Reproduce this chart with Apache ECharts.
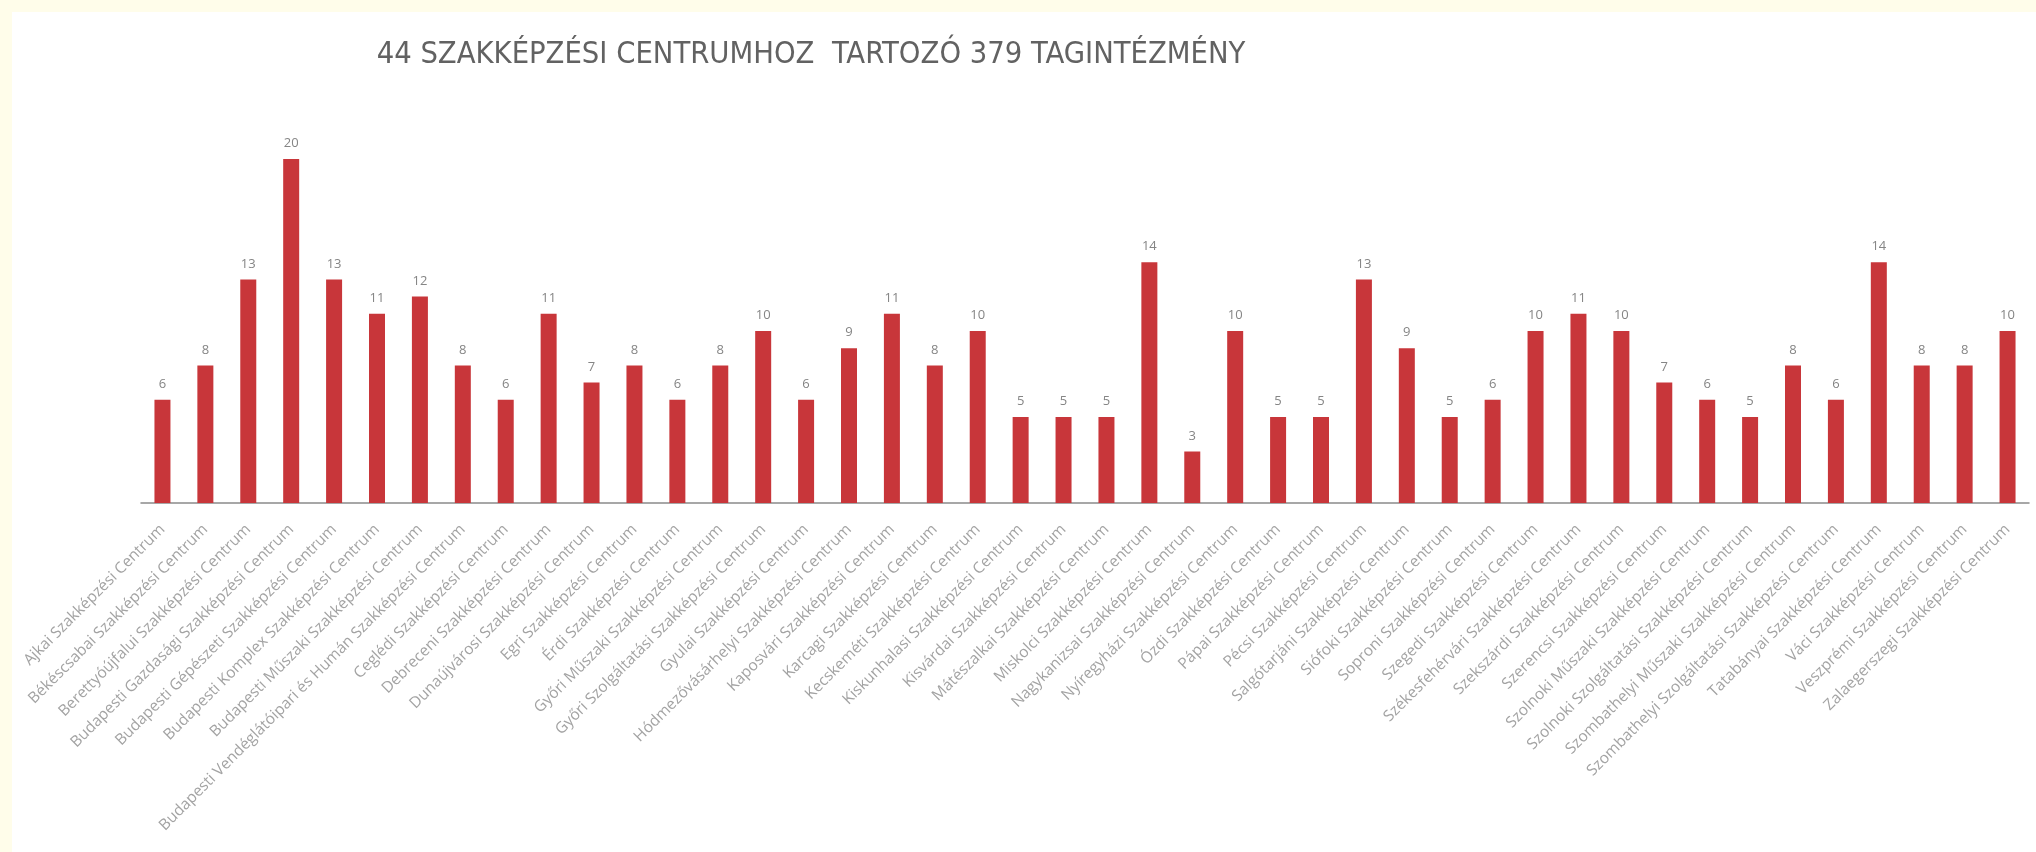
<!DOCTYPE html>
<html>
<head>
<meta charset="utf-8">
<script src="https://cdn.jsdelivr.net/npm/echarts@6/dist/echarts.min.js"></script>
<style>
html,body{margin:0;padding:0;background:#fffdea;width:2036px;height:852px;overflow:hidden;}
#c{position:absolute;left:12px;top:12px;width:2024px;height:840px;background:#ffffff;}
</style>
</head>
<body>
<div id="c"></div>
<script>
const titleText = "44 SZAKKÉPZÉSI CENTRUMHOZ  TARTOZÓ 379 TAGINTÉZMÉNY";
const categories = [
  "Ajkai Szakképzési Centrum",
  "Békéscsabai Szakképzési Centrum",
  "Berettyóújfalui Szakképzési Centrum",
  "Budapesti Gazdasági Szakképzési Centrum",
  "Budapesti Gépészeti Szakképzési Centrum",
  "Budapesti Komplex Szakképzési Centrum",
  "Budapesti Műszaki Szakképzési Centrum",
  "Budapesti Vendéglátóipari és Humán Szakképzési Centrum",
  "Ceglédi Szakképzési Centrum",
  "Debreceni Szakképzési Centrum",
  "Dunaújvárosi Szakképzési Centrum",
  "Egri Szakképzési Centrum",
  "Érdi Szakképzési Centrum",
  "Győri Műszaki Szakképzési Centrum",
  "Győri Szolgáltatási Szakképzési Centrum",
  "Gyulai Szakképzési Centrum",
  "Hódmezővásárhelyi Szakképzési Centrum",
  "Kaposvári Szakképzési Centrum",
  "Karcagi Szakképzési Centrum",
  "Kecskeméti Szakképzési Centrum",
  "Kiskunhalasi Szakképzési Centrum",
  "Kisvárdai Szakképzési Centrum",
  "Mátészalkai Szakképzési Centrum",
  "Miskolci Szakképzési Centrum",
  "Nagykanizsai Szakképzési Centrum",
  "Nyíregyházi Szakképzési Centrum",
  "Ózdi Szakképzési Centrum",
  "Pápai Szakképzési Centrum",
  "Pécsi Szakképzési Centrum",
  "Salgótarjáni Szakképzési Centrum",
  "Siófoki Szakképzési Centrum",
  "Soproni Szakképzési Centrum",
  "Szegedi Szakképzési Centrum",
  "Székesfehérvári Szakképzési Centrum",
  "Szekszárdi Szakképzési Centrum",
  "Szerencsi Szakképzési Centrum",
  "Szolnoki Műszaki Szakképzési Centrum",
  "Szolnoki Szolgáltatási Szakképzési Centrum",
  "Szombathelyi Műszaki Szakképzési Centrum",
  "Szombathelyi Szolgáltatási Szakképzési Centrum",
  "Tatabányai Szakképzési Centrum",
  "Váci Szakképzési Centrum",
  "Veszprémi Szakképzési Centrum",
  "Zalaegerszegi Szakképzési Centrum"
];
const values = [6,8,13,20,13,11,12,8,6,11,7,8,6,8,10,6,9,11,8,10,5,5,5,14,3,10,5,5,13,9,5,6,10,11,10,7,6,5,8,6,14,8,8,10];

const chart = echarts.init(document.getElementById('c'), null, {renderer:'canvas'});
chart.setOption({
  animation:false,
  backgroundColor:'#ffffff',
  title:{
    text:titleText,
    left:794, top:23, textAlign:'center',
    textStyle:{fontFamily:'Liberation Sans Narrow, DejaVu Sans Condensed, sans-serif',fontSize:30.6,fontWeight:'normal',color:'#626262'}
  },
  grid:{left:129,right:7,top:61,bottom:349,containLabel:false},
  xAxis:{
    type:'category',
    data:categories,
    axisLine:{lineStyle:{color:'#8a8a8a',width:1.5}},
    axisTick:{show:false},
    axisLabel:{rotate:45,interval:0,margin:24,fontFamily:'Open Sans, sans-serif',fontSize:15.5,color:'#a3a3a3'}
  },
  yAxis:{type:'value',min:0,max:25,interval:5,show:false,splitLine:{show:false}},
  series:[{
    type:'bar',
    data:values,
    barWidth:16,
    itemStyle:{color:'#c8363a'},
    label:{show:true,position:'top',distance:9,fontFamily:'Open Sans, sans-serif',fontSize:13,color:'#858585'}
  }]
});
</script>
</body>
</html>
